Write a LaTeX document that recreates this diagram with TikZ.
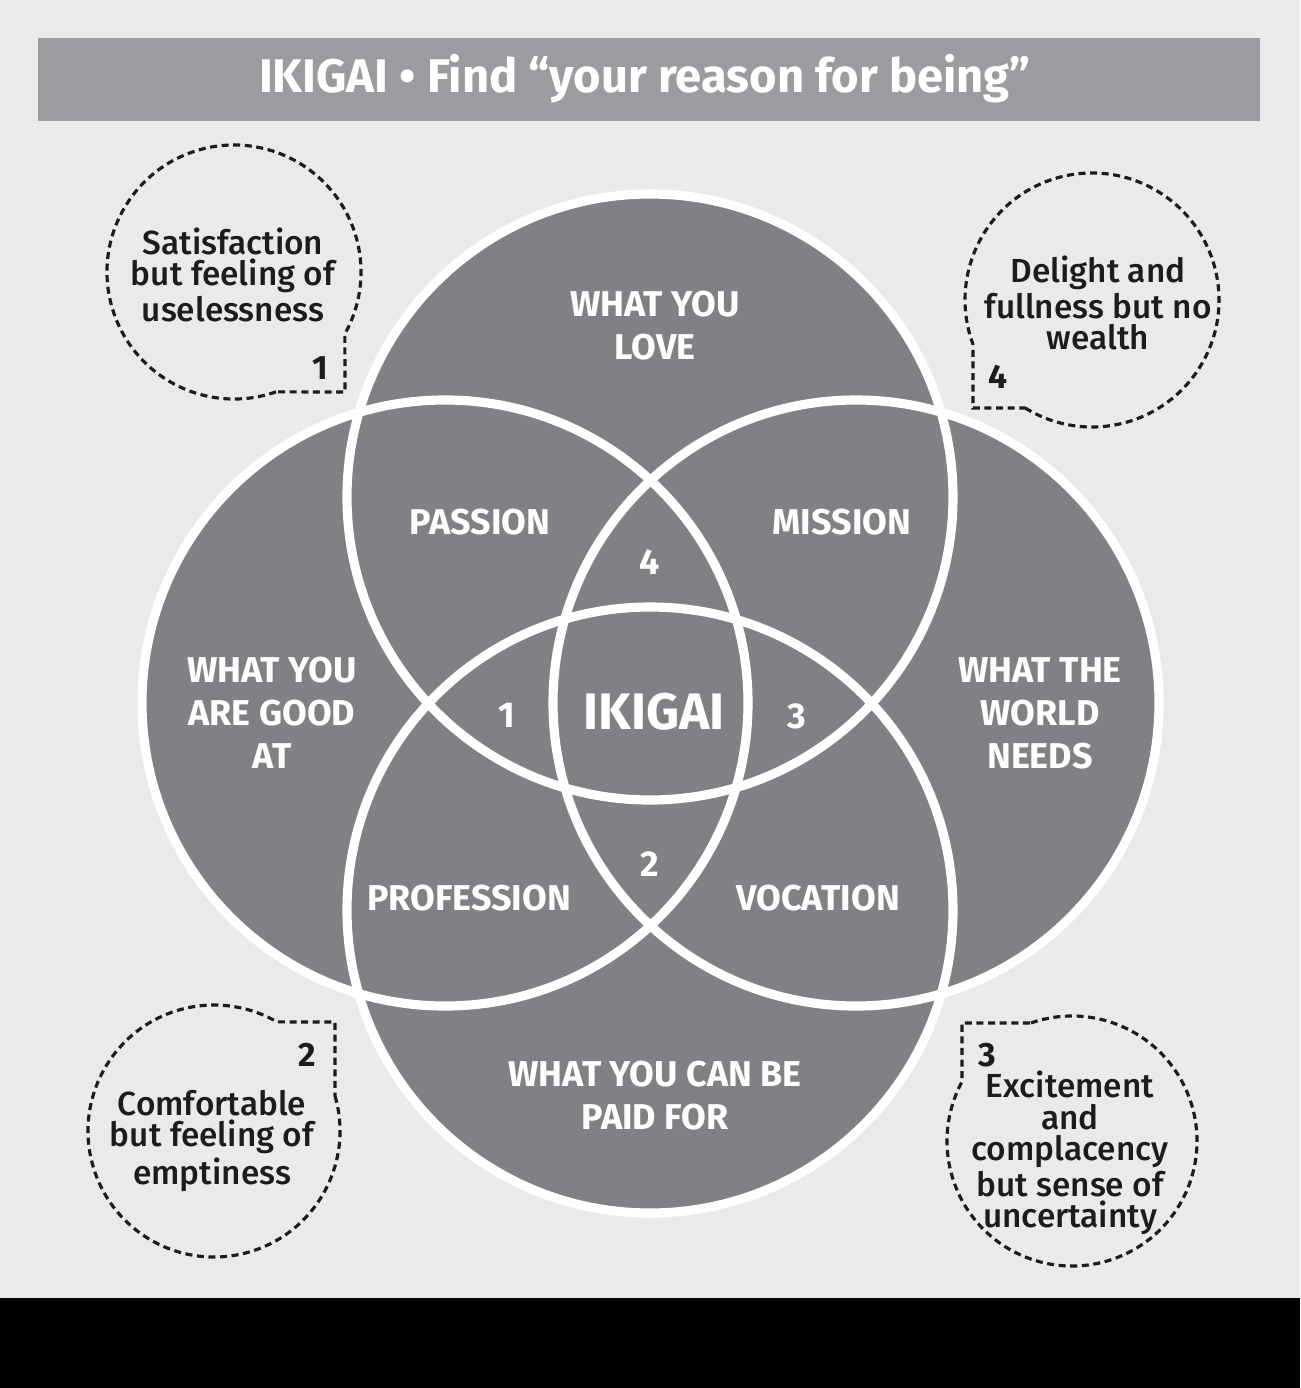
\documentclass[tikz,border=0pt]{standalone}
\usepackage{fontspec}
\setmainfont{Fira Sans}
\newfontfamily\notefont{Fira Sans Medium}
\usetikzlibrary{calc}

\definecolor{paper}{RGB}{234,234,235}
\definecolor{bargray}{RGB}{155,156,160}
\definecolor{discgray}{RGB}{128,129,133}
\definecolor{ink}{RGB}{28,28,30}

\providecommand{\ringsize}{303}

\begin{document}
\begin{tikzpicture}[
    x=0.01cm, y=-0.01cm,
    disc/.style={fill=discgray},
    ring/.style={draw=white, line width=2.6pt},
    bubble/.style={draw=ink, line width=0.9pt, dash pattern=on 2pt off 1.3pt},
    regiontext/.style={text=white, font={\fontsize{10.2}{12.2}\selectfont\bfseries}, align=center, inner sep=0pt},
    notetext/.style={text=ink, font={\notefont\fontsize{9.5}{8.9}\selectfont}, align=center, inner sep=0pt},
    notenum/.style={text=ink, font={\fontsize{9.6}{10}\selectfont\bfseries}, inner sep=0pt}
]

    % ==================== BACKGROUND ====================
    \useasboundingbox (0,0) rectangle (1300,1388);
    \fill[paper] (0,0) rectangle (1300,1298);
    \fill[black] (0,1298) rectangle (1300,1388);

    % ==================== TITLE BAR ====================
    \fill[bargray] (38,38) rectangle (1260,121);
    \node[text=white, font={\fontsize{13.4}{15}\selectfont\bfseries}, inner sep=0pt] (title) at (645,79)
        {IKIGAI • Find “your reason for being”};

    % ==================== FOUR CIRCLES ====================
    % Centres (drawn filled first, then white outlines on top)
    \coordinate (cLove)  at (650,497);
    \coordinate (cPaid)  at (650,910);
    \coordinate (cGood)  at (445,703);
    \coordinate (cWorld) at (856,703);

    \fill[disc] (cLove)  circle[radius=\ringsize];
    \fill[disc] (cPaid)  circle[radius=\ringsize];
    \fill[disc] (cGood)  circle[radius=\ringsize];
    \fill[disc] (cWorld) circle[radius=\ringsize];

    \draw[ring] (cLove)  circle[radius=\ringsize];
    \draw[ring] (cPaid)  circle[radius=\ringsize];
    \draw[ring] (cGood)  circle[radius=\ringsize];
    \draw[ring] (cWorld) circle[radius=\ringsize];

    % Region labels
    \node[regiontext] (love)  at (655,326) {WHAT YOU\\LOVE};
    \node[regiontext] (good)  at (272,713) {WHAT YOU\\ARE GOOD\\AT};
    \node[regiontext] (world) at (1040,713) {WHAT THE\\WORLD\\NEEDS};
    \node[regiontext] (paid)  at (655,1096) {WHAT YOU CAN BE\\PAID FOR};

    \node[regiontext] (passion)    at (480,522) {PASSION};
    \node[regiontext] (mission)    at (842,522) {MISSION};
    \node[regiontext] (profession) at (469,898) {PROFESSION};
    \node[regiontext] (vocation)   at (818,898) {VOCATION};

    \node[regiontext] (numA) at (507,715) {1};
    \node[regiontext] (numB) at (650,864) {2};
    \node[regiontext] (numC) at (797,716) {3};
    \node[regiontext] (numD) at (650,562) {4};
    \node[regiontext, font={\fontsize{14.6}{16}\selectfont\bfseries}] (ikigai) at (654,712) {IKIGAI};

    % ==================== DASHED BUBBLES ====================
    \coordinate (b1) at (234,272);
    \coordinate (b2) at (214,1131);
    \coordinate (b3) at (1072,1141);
    \coordinate (b4) at (1092,300);

    % Bubble 1 (corner bottom-right)
    \draw[bubble] ($(b1)+(70.7:127)$) arc[start angle=70.7, end angle=389.2, radius=127] -- (345,392) -- cycle;
    % Bubble 4 (corner bottom-left)
    \draw[bubble] ($(b4)+(121.7:127)$) arc[start angle=121.7, end angle=-200.3, radius=127] -- (973,408) -- cycle;
    % Bubble 2 (corner top-right)
    \draw[bubble] ($(b2)+(-16.2:126)$) arc[start angle=-16.2, end angle=300, radius=126] -- (335,1022) -- cycle;
    % Bubble 3 (corner top-left)
    \draw[bubble] ($(b3)+(250.8:125)$) arc[start angle=250.8, end angle=568.4, radius=125] -- (962,1023) -- cycle;

    % Bubble texts
    \node[notetext] (noteA) at (233,275) {Satisfaction\\but feeling of\\uselessness};
    \node[notetext] (noteB) at (212,1141) {Comfortable\\but feeling of\\emptiness};
    \node[notetext] (noteC) at (1070,1153) {Excitement\\and\\complacency\\but sense of\\uncertainty};
    \node[notetext] (noteD) at (1098,303) {Delight and\\fullness but no\\wealth};

    \node[notenum] (tagA) at (320,368) {1};
    \node[notenum] (tagB) at (307,1055) {2};
    \node[notenum] (tagC) at (987,1055) {3};
    \node[notenum] (tagD) at (998,377) {4};

\end{tikzpicture}
\end{document}
